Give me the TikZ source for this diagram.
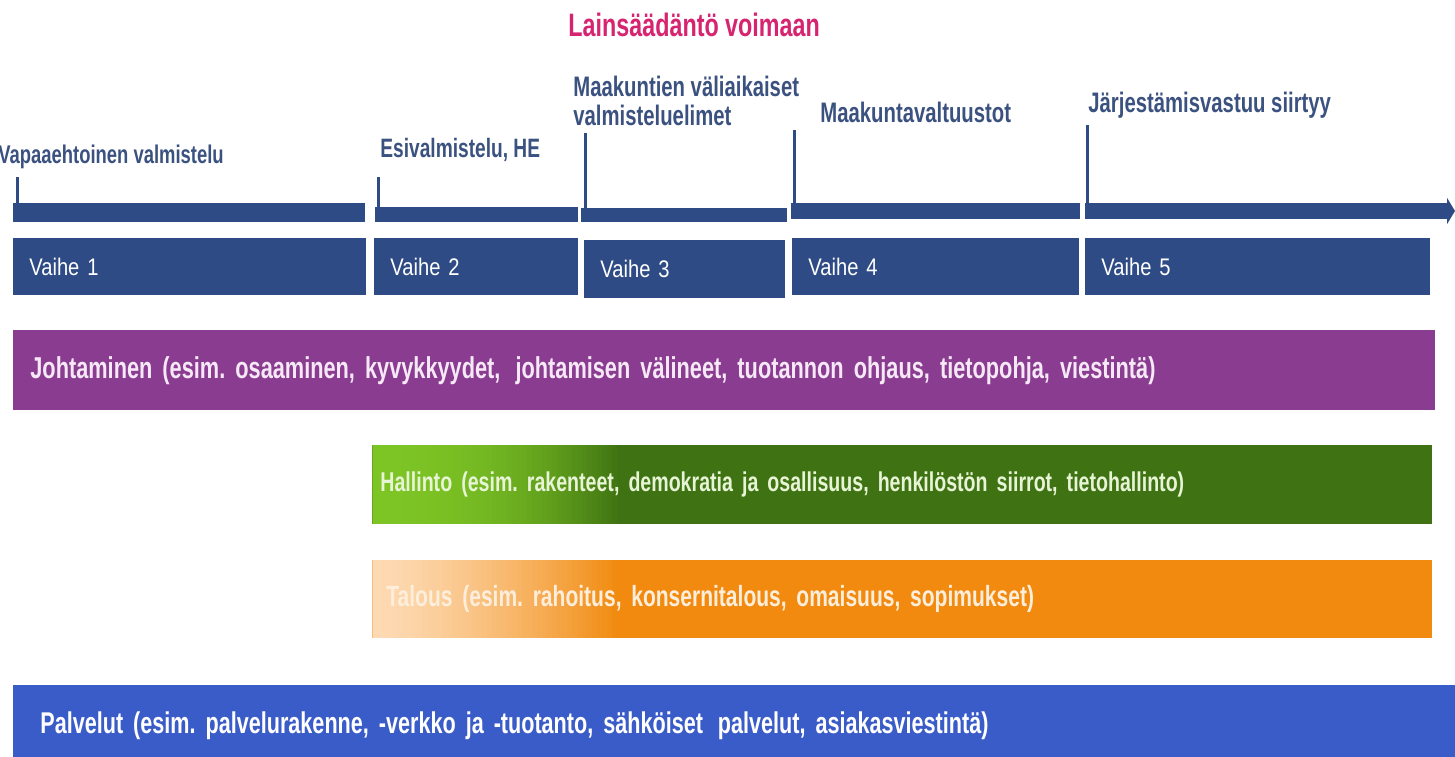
\documentclass[tikz,border=0pt]{standalone}
\usepackage{fontspec}
\setmainfont{Liberation Sans}[FakeStretch=0.84]
\newfontfamily\narrowbf{Liberation Sans}[FakeStretch=0.72]
\usetikzlibrary{arrows.meta}
\frenchspacing

\definecolor{navy}{HTML}{2E4B85}
\definecolor{labelblue}{HTML}{3B5280}
\definecolor{lawpink}{HTML}{D62470}
\definecolor{leadpurple}{HTML}{8A3C90}
\definecolor{leadtext}{HTML}{F6E8F6}
\definecolor{greenlight}{HTML}{7DC425}
\definecolor{greendark}{HTML}{3E7212}
\definecolor{greentext}{HTML}{E8F4D6}
\definecolor{orangelight}{HTML}{FDDAB4}
\definecolor{orangedark}{HTML}{F18A0E}
\definecolor{orangetext}{HTML}{FDEEDC}
\definecolor{serviceblue}{HTML}{3A5CC8}

\begin{document}
\begin{tikzpicture}[x=0.5pt,y=-0.5pt,
  seg/.style={rectangle, fill=navy, anchor=north west, inner sep=0pt},
  tick/.style={navy, line width=1.5pt},
  steplabel/.style={anchor=west, inner sep=0pt, text=labelblue, font=\narrowbf\bfseries\fontsize{#1}{#1}\selectfont, align=left},
  phase/.style={rectangle, fill=navy, anchor=north west, minimum height=28.5pt, inner xsep=8pt, text width=#1, align=left, text=white, font=\fontsize{12}{14}\selectfont},
  themebar/.style={rectangle, anchor=north west, align=left, font=\narrowbf\bfseries\fontsize{#1}{16}\selectfont},
  fadeleft/.style n args={3}{path picture={
    \foreach \i [evaluate=\i as \p using {100*(\i/49)^#3}] in {0,...,49}
      \fill[#2!\p!#1] ([xshift=\i*2.5pt]path picture bounding box.south west) rectangle ([xshift=\i*2.5pt+2.7pt]path picture bounding box.north west);}}]
  \useasboundingbox (0,0) rectangle (1455,756);

  % timeline
  \node[lawpink, anchor=west, inner sep=0pt, font=\narrowbf\bfseries\fontsize{16.2}{17}\selectfont] (law) at (568,25) {Lainsäädäntö voimaan};
  \node[seg, minimum width=176pt, minimum height=9.5pt] (seg1) at (13,203) {};
  \node[seg, minimum width=101.5pt, minimum height=7.5pt] (seg2) at (375,207) {};
  \node[seg, minimum width=103pt, minimum height=7pt] (seg3) at (581,208) {};
  \node[seg, minimum width=144.5pt, minimum height=8pt] (seg4) at (791,203) {};
  \coordinate (arrowend) at (1455,211);
  \draw[navy, line width=8pt, -{Triangle[length=4pt, width=13pt]}] (1085,211) -- (arrowend);

  \draw[tick] ([xshift=2pt]seg1.north west) -- ++(0,-26);
  \draw[tick] ([xshift=1.5pt]seg2.north west) -- ++(0,-30);
  \draw[tick] ([xshift=2pt]seg3.north west) -- ++(0,-75);
  \draw[tick] ([xshift=1.5pt]seg4.north west) -- ++(0,-73);
  \draw[tick] (1087,203) -- ++(0,-78);

  \node[steplabel=12.8] (lab1) at (-2,157) {Vapaaehtoinen valmistelu};
  \node[steplabel=13.3] (lab2) at (380,150) {Esivalmistelu, HE};
  \node[steplabel=14.1] (lab3) at (573,101) {Maakuntien väliaikaiset\\valmisteluelimet};
  \node[steplabel=14.1] (lab4) at (820,112) {Maakuntavaltuustot};
  \node[steplabel=14.1] (lab5) at (1088,105) {Järjestämisvastuu siirtyy};

  % phases
  \node[phase=160.5pt] (v1) at (13,238) {Vaihe 1};
  \node[phase=86pt] (v2) at (374,238) {Vaihe 2};
  \node[phase=84.5pt, minimum height=29pt] (v3) at (584,240) {Vaihe 3};
  \node[phase=127.5pt] (v4) at (792,238) {Vaihe 4};
  \node[phase=156.5pt] (v5) at (1085,238) {Vaihe 5};

  % themes
  \node[themebar=15.1, fill=leadpurple, text=leadtext, minimum height=40pt, inner xsep=8.5pt, text width=694pt] (lead) at (13,330)
    {Johtaminen (esim. osaaminen, kyvykkyydet,\, johtamisen välineet, tuotannon ohjaus, tietopohja, viestintä)};
  \node[themebar=13.6, fill=greendark, text=greentext, fadeleft={greenlight}{greendark}{2.3}, minimum height=39.5pt, inner xsep=4pt, text width=522pt] (admin) at (372,445)
    {Hallinto (esim. rakenteet, demokratia ja osallisuus, henkilöstön siirrot, tietohallinto)};
  \node[themebar=14.6, fill=orangedark, text=orangetext, fadeleft={orangelight}{orangedark}{1.4}, minimum height=39pt, inner xsep=7pt, text width=516pt] (econ) at (372,560)
    {Talous (esim. rahoitus, konsernitalous, omaisuus, sopimukset)};
  \node[themebar=15, fill=serviceblue, text=white, minimum height=40pt, inner xsep=13.5pt, text width=696.5pt] (serv) at (13,685)
    {Palvelut (esim. palvelurakenne, -verkko ja -tuotanto, sähköiset\, palvelut, asiakasviestintä)};
\end{tikzpicture}
\end{document}
